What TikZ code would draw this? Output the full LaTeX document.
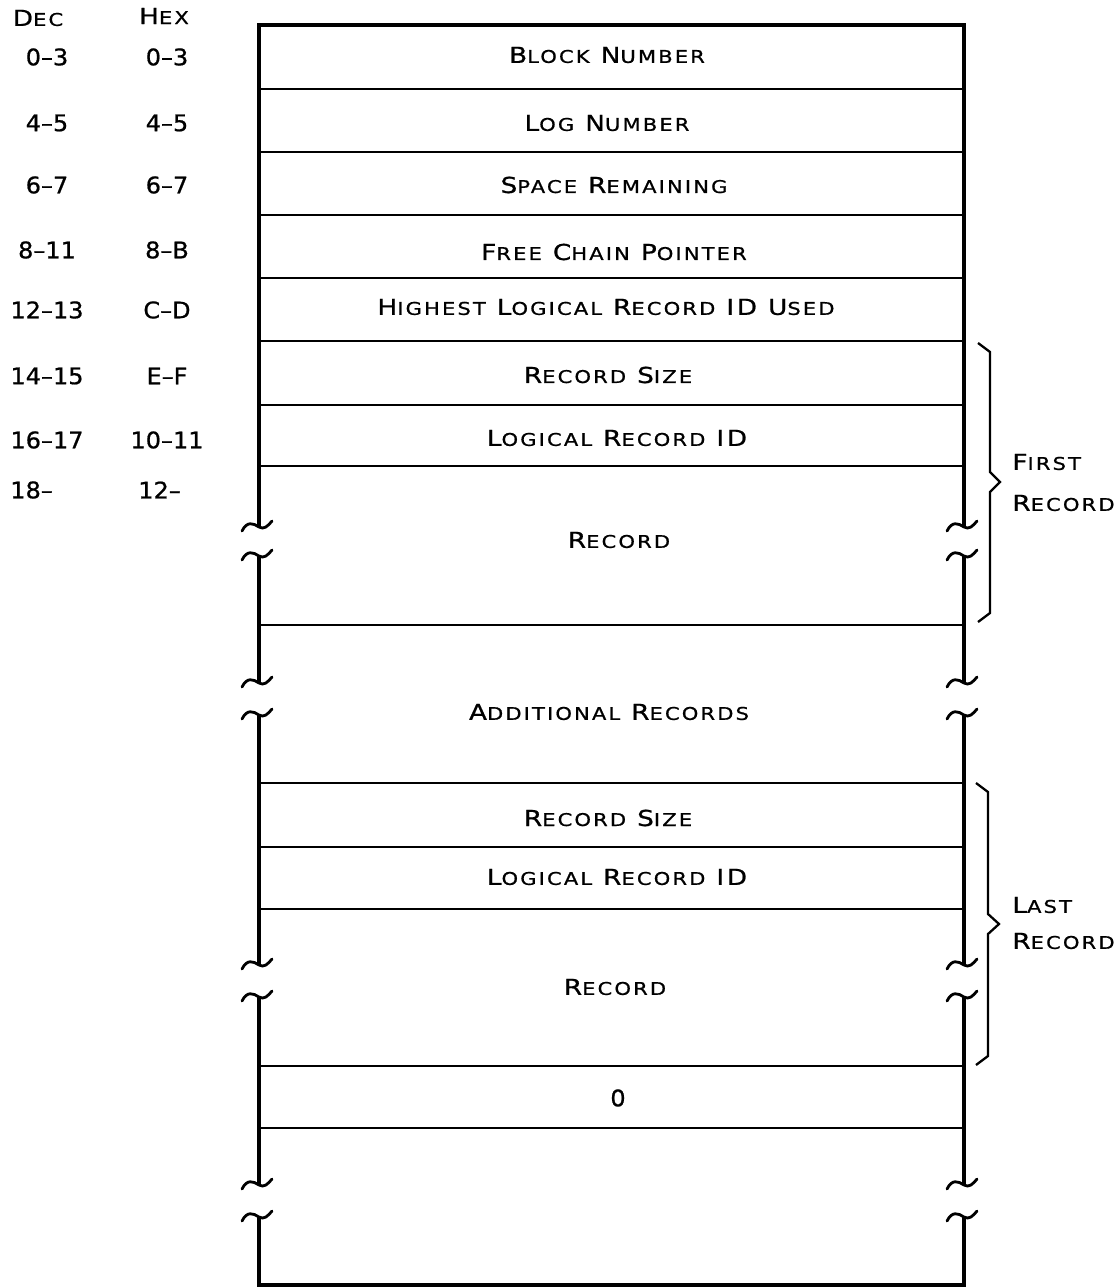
\documentclass[tikz,border=0pt]{standalone}
\usepackage{fontspec}
\setmainfont[FakeStretch=1.2, LetterSpace=12, FakeBold=0.8]{DejaVu Sans}
\newfontfamily\numfont[Ligatures=TeX, FakeStretch=1.05, FakeBold=0.8]{DejaVu Sans}
\usetikzlibrary{calc}

% lower part of a small-caps word
\newcommand{\lc}[1]{{\fontsize{10}{12}\selectfont #1}}
% wavy break mark, the wall meets it at (#1,#2)
\newcommand{\brkmark}[2]{\draw[brkline] ({#1-17},{#2+4}) .. controls ({#1-12},{#2-6}) and ({#1-6},{#2-4}) .. ({#1},{#2}) .. controls ({#1+5},{#2+3}) and ({#1+9},{#2-1}) .. ({#1+13},{#2-6});}

\begin{document}
\begin{tikzpicture}[x=0.02cm, y=-0.02cm,
  basetxt/.style={font=\fontsize{12.5}{14}\selectfont, inner sep=0pt},
  fieldlbl/.style={basetxt},
  offlbl/.style={basetxt},
  numlbl/.style={font=\numfont\fontsize{13}{15}\selectfont, inner sep=0pt},
  sidelbl/.style={basetxt, anchor=west},
  wallline/.style={line width=2.2pt, line join=miter},
  divline/.style={line width=1.1pt},
  brkline/.style={line width=1.6pt, line cap=round},
  bracel/.style={line width=1.3pt, line join=miter}]
  \useasboundingbox (0,0) rectangle (1115,1287);
  % offsets
  \node[offlbl] (dechd) at (38,18) {D\lc{EC}};
  \node[offlbl] (hexhd) at (164,16) {H\lc{EX}};
  \foreach \y/\d/\h [count=\i] in {57/0--3/0--3, 123/4--5/4--5, 185/6--7/6--7,
      250/8--11/8--B, 310/12--13/C--D, 376/14--15/E--F, 440/16--17/10--11} {
    \node[numlbl] (dec\i) at (47,\y) {\d};
    \node[numlbl] (hex\i) at (167,\y) {\h};
  }
  \node[numlbl, anchor=west] (dec8) at (10,490) {18--};
  \node[numlbl, anchor=west] (hex8) at (138,490) {12--};
  % block frame
  \draw[wallline] (259,527) -- (259,25) -- (964,25) -- (964,527);
  \draw[wallline] (259,1217) -- (259,1285) -- (964,1285) -- (964,1217);
  \foreach \x in {259,964} {
    \foreach \a/\b in {556/683, 715/965, 997/1185}
      \draw[wallline] (\x,\a) -- (\x,\b);
    \foreach \y in {527,556,683,715,965,997,1185,1217}
      {\brkmark{\x}{\y}}
  }
  \foreach \y in {89,152,215,278,341,405,466,625,783,847,909,1066,1128}
    \draw[divline] (259,\y) -- (964,\y);
  % fields
  \node[fieldlbl] (blk) at (607,55) {B\lc{LOCK} N\lc{UMBER}};
  \node[fieldlbl] (lognum) at (607,123) {L\lc{OG} N\lc{UMBER}};
  \node[fieldlbl] (space) at (614,185) {S\lc{PACE} R\lc{EMAINING}};
  \node[fieldlbl] (chain) at (614,252) {F\lc{REE} C\lc{HAIN} P\lc{OINTER}};
  \node[fieldlbl] (hiid) at (606,307) {H\lc{IGHEST} L\lc{OGICAL} R\lc{ECORD} ID U\lc{SED}};
  \node[fieldlbl] (rsz1) at (608,375) {R\lc{ECORD} S\lc{IZE}};
  \node[fieldlbl] (lrid1) at (617,438) {L\lc{OGICAL} R\lc{ECORD} ID};
  \node[fieldlbl] (rec1) at (619,540) {R\lc{ECORD}};
  \node[fieldlbl] (addrec) at (609,712) {A\lc{DDITIONAL} R\lc{ECORDS}};
  \node[fieldlbl] (rsz2) at (608,818) {R\lc{ECORD} S\lc{IZE}};
  \node[fieldlbl] (lrid2) at (617,877) {L\lc{OGICAL} R\lc{ECORD} ID};
  \node[fieldlbl] (rec2) at (615,987) {R\lc{ECORD}};
  \node[numlbl] (zero) at (618,1098) {0};
  % braces
  \draw[bracel] (978,343) -- (990,352) -- (990,472) -- (1000,482) -- (990,492) -- (990,613) -- (978,622);
  \draw[bracel] (976,783) -- (988,792) -- (988,914) -- (999,924) -- (988,934) -- (988,1056) -- (976,1065);
  \node[sidelbl] (first) at (1012,462) {F\lc{IRST}};
  \node[sidelbl] (firstrec) at (1012,503) {R\lc{ECORD}};
  \node[sidelbl] (last) at (1012,905) {L\lc{AST}};
  \node[sidelbl] (lastrec) at (1012,941) {R\lc{ECORD}};
\end{tikzpicture}
\end{document}
